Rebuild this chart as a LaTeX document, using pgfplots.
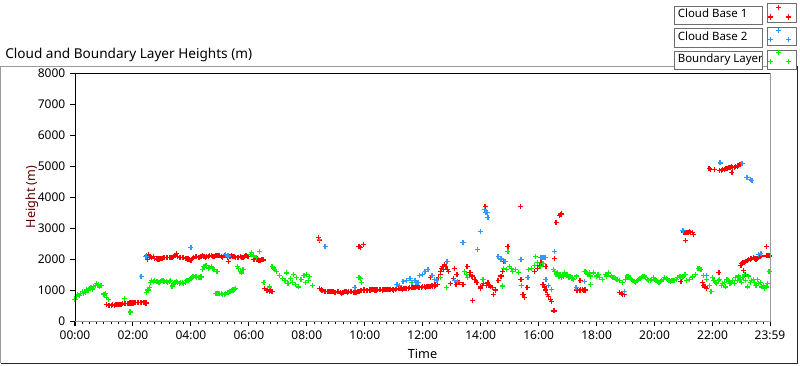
\documentclass[border=0pt]{standalone}
\usepackage{pgfplots}
\pgfplotsset{compat=1.18}
\usepackage{fontspec}
\setmainfont{Noto Sans}
\definecolor{cbred}{RGB}{255,0,0}
\definecolor{cbblue}{RGB}{51,153,255}
\definecolor{blgreen}{RGB}{0,240,0}
\definecolor{lgray}{RGB}{110,110,110}
\definecolor{ylab}{RGB}{100,0,0}
\setlength{\fboxsep}{1.5pt}
\setlength{\fboxrule}{0.75pt}
\newcommand\lbox[1]{\fcolorbox{lgray}{white}{\rule[-3.3pt]{0pt}{10pt}\makebox[62pt][l]{\hspace{0.6pt}#1}}}
\pgfplotsset{
  pts/.style={only marks, mark=+, mark size=1.9pt, mark options={line width=0.9pt}, forget plot},
  swatch/.style={mark=+, mark size=1.9pt, mark options={line width=0.9pt}, color=#1,
    legend image code/.code={
      \pgfpathrectangle{\pgfpoint{0pt}{-6.9pt}}{\pgfpoint{22.5pt}{13.8pt}}\pgfusepath{discard}
      \path[##1] plot[only marks] coordinates {(9pt,3.9pt) (2.6pt,-3pt) (16.5pt,-3pt)};
    }},
}
\begin{document}
\begin{tikzpicture}
\useasboundingbox (0,0) rectangle (600pt,-273.75pt);
\draw[gray!80, line width=0.75pt] (0.4pt,-272.25pt) -- (0.4pt,-49.5pt) -- (597.75pt,-49.5pt);
\draw[black!85, line width=0.75pt] (597.75pt,-49.5pt) -- (597.75pt,-272.25pt) -- (0.4pt,-272.25pt);
\node[anchor=west, inner sep=0pt, font=\fontsize{10.2}{11}\selectfont] at (3.75pt,-41.25pt) {Cloud and Boundary Layer Heights (m)};
% legend swatch frames
\foreach \r in {0,1,2} {
  \draw[lgray, fill=white, line width=0.75pt] (575.25pt,{-2.98pt-\r*17.5pt}) rectangle (597.4pt,{-16.78pt-\r*17.5pt});
}
\begin{axis}[
  name=ax,
  at={(56.25pt,-240.75pt)}, anchor=south west,
  width=521.25pt, height=186pt, scale only axis,
  xmin=0, xmax=23.9833, ymin=0, ymax=8000,
  axis line style={draw=none},
  xtick={0,2,4,6,8,10,12,14,16,18,20,22,23.9833},
  xticklabels={00:00,02:00,04:00,06:00,08:00,10:00,12:00,14:00,16:00,18:00,20:00,22:00,23:59},
  minor xtick={0.25,0.5,...,23.8},
  ytick={0,1000,...,8000},
  xtick pos=bottom, ytick pos=left, tick align=outside,
  major tick length=3.75pt, minor tick length=2.25pt,
  tick style={black, line width=0.75pt},
  ticklabel style={font=\fontsize{9}{10}\selectfont},
  /pgf/number format/assume math mode=true,
  yticklabel style={/pgf/number format/1000 sep={}},
  xlabel={Time}, ylabel={Height (m)},
  label style={font=\fontsize{9.5}{10}\selectfont},
  xlabel style={at={(axis description cs:0.5,-0.133)}, anchor=center},
  ylabel style={at={(axis description cs:-0.062,0.5)}, anchor=center, text=ylab},
  legend plot pos=right,
  legend cell align=left,
  legend style={at={(1.0388,1.2802)}, anchor=north east, draw=none, fill=none,
    row sep=3pt, column sep=3pt, inner sep=0pt, font=\fontsize{8.6}{10}\selectfont,
    nodes={inner sep=0pt}},
]
% Cloud Base 1
\addplot[pts, color=cbred] coordinates {
(1.10,520)(1.15,510)(1.20,510)(1.25,515)(1.30,520)(1.35,515)(1.40,525)(1.45,520)(1.50,520)(1.55,530)(1.60,540)(1.65,550)(1.70,560)(1.75,560)(1.80,570)(1.85,575)(1.90,580)(1.95,580)(2.00,580)(2.05,585)(2.10,590)(2.15,590)(2.20,595)(2.25,600)(2.30,600)(2.35,600)(2.40,610)(2.45,580)
(2.48,2100)(2.50,1980)(2.53,2150)(2.56,2050)(2.60,2080)(2.65,2050)(2.70,2080)(2.75,2020)(2.80,2020)(2.85,2000)(2.90,2000)(2.95,2020)(3.00,2020)(3.05,2040)(3.10,2050)(3.15,2040)(3.20,2040)(3.25,2050)(3.30,2060)(3.35,2060)(3.40,2080)(3.45,2100)(3.50,2180)(3.55,2080)(3.60,2050)(3.65,2060)(3.70,2050)(3.75,2040)(3.80,2030)(3.85,2020)(3.90,2000)(3.95,1980)(4.00,1950)(4.05,2020)(4.10,2050)(4.15,2070)(4.20,2080)(4.25,2060)(4.30,2050)(4.35,2080)(4.40,2100)(4.45,2070)(4.50,2050)(4.55,2080)(4.60,2080)(4.65,2100)(4.70,2100)(4.75,2070)(4.80,2080)(4.85,2100)(4.90,2100)(4.95,2120)(5.00,2120)(5.05,2080)(5.10,2050)(5.15,2100)(5.20,2100)(5.25,2060)(5.30,1920)(5.35,2080)(5.40,2100)(5.45,2090)(5.50,2080)(5.55,2060)(5.60,2050)(5.65,2060)(5.70,2080)(5.75,2060)(5.80,2050)(5.85,2080)(5.90,2100)(5.95,2090)(6.00,2080)
(6.15,1990)(6.20,1980)(6.25,2000)(6.30,2000)(6.35,1960)(6.40,1950)(6.45,1980)(6.50,1970)
(6.55,1050)(6.60,980)(6.65,1000)(6.70,950)(6.75,980)(6.80,960)
(8.40,2700)(8.45,2600)
(8.45,1050)(8.50,1000)(8.55,970)(8.60,950)(8.65,950)(8.70,940)(8.75,950)(8.80,950)(8.85,960)(8.90,950)(8.95,930)(9.00,920)(9.05,940)(9.10,950)(9.15,920)(9.20,900)(9.25,930)(9.30,950)(9.35,940)(9.40,920)(9.45,940)(9.50,960)(9.55,950)(9.60,930)(9.65,910)(9.70,920)(9.75,940)(9.80,950)(9.85,980)(9.90,990)(9.95,1000)
(9.80,2400)(9.85,2380)(9.95,2480)
(10.00,1000)(10.05,990)(10.10,980)(10.15,1000)(10.20,1000)(10.25,1010)(10.30,1010)(10.35,1000)(10.40,1000)(10.45,1010)(10.50,1020)(10.55,1010)(10.60,1000)(10.65,1010)(10.70,1010)(10.75,1020)(10.80,1020)(10.85,1030)(10.90,1030)(10.95,1010)(11.00,1000)(11.05,1030)(11.10,1040)(11.15,1050)(11.20,1050)(11.25,1040)(11.30,1030)(11.35,1050)(11.40,1060)(11.45,1060)(11.50,1060)(11.55,1070)(11.60,1080)(11.65,1080)(11.70,1070)(11.75,1090)(11.80,1100)(11.85,1090)(11.90,1080)(11.95,1090)(12.00,1100)(12.05,1100)(12.10,1090)(12.15,1100)(12.20,1100)(12.25,1120)(12.30,1150)(12.35,1130)(12.40,1120)(12.45,1150)(12.50,1170)
(12.55,1400)(12.60,1600)(12.62,1500)(12.65,1700)(12.70,1750)(12.72,1650)(12.75,1820)(12.80,1750)(12.85,1650)(12.90,1600)
(12.28,1400)(12.42,1170)(12.95,1200)(13.05,1380)(13.10,1700)(13.18,1500)(13.15,1170)(13.25,1250)(13.39,1170)(13.53,1750)(13.63,1560)(13.70,1450)(13.80,1330)(13.87,1250)(13.98,1040)(13.73,650)
(14.15,3700)(14.00,1100)(14.05,1150)(14.10,1200)(14.20,1150)(14.25,1235)(14.30,1150)(14.35,1100)(14.42,1070)(14.45,845)(14.50,1000)(14.60,1300)(14.70,1450)(14.75,1600)(14.80,1920)(14.94,2400)
(15.36,3700)(15.39,1330)(15.46,845)(15.50,750)(15.60,1070)(15.87,1600)(15.95,1700)(16.02,1800)(16.08,1890)(16.25,1750)(16.15,1170)(16.20,1100)(16.25,1000)(16.30,850)(16.35,800)(16.40,700)(16.45,620)(16.53,325)(16.56,2015)(16.60,3180)(16.72,3400)(16.77,3450)(16.80,3480)
(17.30,1000)(17.35,980)(17.40,980)(17.45,1000)(17.50,1010)(17.55,990)(17.60,1000)(17.43,1300)
(18.80,910)(18.85,880)(18.90,860)(18.95,845)
(20.91,1267)(21.00,2870)(21.05,2860)(21.10,2850)(21.15,2860)(21.20,2880)(21.25,2850)(21.30,2850)(21.35,2800)(21.08,2600)
(21.65,1250)(21.70,1150)(21.72,1100)(21.75,1100)(21.78,1050)
(21.88,4910)(21.92,4900)(22.08,4880)(22.25,4850)(22.30,4870)(22.35,4900)(22.40,4900)(22.45,4920)(22.50,4930)(22.55,4950)(22.60,4950)(22.65,4980)(22.70,4960)(22.75,4960)(22.80,4980)(22.85,5000)(22.90,5020)(22.95,5050)(22.67,4780)
(22.22,1560)(22.98,1800)(23.00,1850)(23.05,1880)(23.10,1900)(23.15,1920)(23.20,1950)(23.25,1980)(23.30,2000)(23.35,2020)(23.40,2050)(23.45,2020)(23.50,2000)(23.55,2030)(23.60,2050)(23.65,2080)(23.70,2100)(23.08,1625)(23.12,1500)(23.85,2400)(23.88,2100)(23.92,2100)(23.96,2100)
};
% Cloud Base 2
\addplot[pts, color=cbblue] coordinates {
(2.28,1430)(2.45,2080)(4.00,2370)(5.18,2145)(5.28,2100)(8.45,2630)(8.63,2400)(9.66,1070)
(11.11,1170)(11.20,1150)(11.32,1267)(11.45,1300)(11.56,1365)(11.65,1250)(11.73,1300)(11.76,1250)(11.80,1230)(11.85,1250)(11.90,1460)(12.00,1500)(12.08,1600)(12.18,1660)(12.32,1460)(12.40,1350)(12.49,1300)(12.84,1920)(13.10,1300)(13.39,2535)(13.90,2310)(13.98,2890)(14.12,3600)(14.18,3500)(14.22,3510)(14.25,3350)(14.60,2080)(14.70,2000)(14.84,1920)(15.39,1980)(15.42,1137)(15.63,1400)(16.08,2050)(16.15,2050)(16.22,2050)(16.25,1330)(16.35,1150)(16.43,1010)(16.56,2240)(17.29,1070)(17.57,1267)(18.95,940)(20.98,2920)(21.78,1460)(22.26,5100)(23.02,5070)(23.19,4620)(23.30,4570)(23.36,4520)(23.60,2150)(23.67,2180)
};
% Boundary Layer
\addplot[pts, color=blgreen] coordinates {
(0.00,700)(0.05,780)(0.10,850)(0.15,820)(0.20,900)(0.25,950)(0.30,880)(0.35,920)(0.40,1000)(0.45,980)(0.50,1050)(0.55,1080)(0.60,1030)(0.65,1120)(0.70,1150)(0.75,1200)(0.80,1180)(0.85,1100)(0.90,1150)
(1.00,870)(1.05,880)(1.10,760)(1.15,700)(1.70,715)(1.90,290)
(2.48,920)(2.52,1000)(2.56,1080)(2.60,1250)(2.65,1300)(2.70,1270)(2.75,1300)(2.80,1280)(2.85,1260)(2.90,1250)(2.95,1280)(3.00,1300)(3.05,1290)(3.10,1270)(3.15,1260)(3.20,1250)(3.25,1280)(3.30,1300)(3.35,1130)(3.40,1200)(3.45,1240)(3.50,1260)(3.55,1230)(3.60,1220)(3.65,1250)(3.70,1240)(3.75,1200)(3.80,1250)(3.85,1300)(3.90,1320)(3.95,1350)(4.00,1380)(4.05,1420)(4.10,1450)(4.15,1430)(4.20,1420)(4.25,1400)(4.30,1410)(4.35,1420)
(4.40,1650)(4.45,1750)(4.50,1800)(4.55,1780)(4.60,1700)(4.65,1720)(4.70,1750)(4.75,1700)(4.80,1650)(4.90,1600)
(4.85,880)(4.90,900)(4.95,900)(5.00,890)(5.05,880)(5.10,860)(5.15,850)(5.20,880)(5.25,920)(5.30,930)(5.35,950)(5.40,980)(5.45,1000)(5.50,1020)(5.55,1050)
(5.60,1750)(5.65,1700)(5.70,1600)(5.75,1550)(5.80,1650)
(6.05,2150)(6.10,2200)(6.15,2100)(6.25,2050)(6.38,2240)
(6.52,1235)(6.70,1100)(6.80,1750)(6.85,1700)(6.90,1650)(6.95,1600)
(7.05,1460)(7.15,1370)(7.25,1300)(7.30,1550)(7.35,1200)(7.45,1370)(7.50,1240)(7.55,1500)(7.60,1170)(7.65,1400)(7.70,1100)(7.80,1330)(7.90,1460)(7.95,1250)(8.00,1500)(8.05,1300)(8.10,1430)(8.20,1140)
(9.80,1400)(9.85,1380)(9.90,1230)(11.60,1235)
(12.60,1400)(12.83,1070)(13.20,1270)(13.45,1600)(13.50,1500)(13.55,1400)(14.08,1330)
(14.75,1130)(14.80,1700)(14.90,1650)(14.94,2240)(15.00,1750)(15.05,1700)(15.10,1600)(15.20,1650)(15.30,1560)
(15.65,1660)(15.75,1700)(15.85,1800)(15.90,2080)(15.95,1890)(16.05,1750)(16.15,1850)
(16.50,1650)(16.55,1600)(16.60,1500)(16.65,1550)(16.70,1450)(16.75,1500)(16.80,1400)(16.85,1450)(16.90,1550)(16.95,1480)(17.00,1500)(17.05,1420)(17.10,1450)(17.15,1380)(17.20,1350)(17.30,1450)
(17.60,1600)(17.65,1550)(17.70,1500)(17.75,1550)(17.80,1450)(17.80,1170)(17.90,1550)(18.00,1450)(18.05,1500)(18.10,1400)(18.20,1350)(18.30,1500)(18.35,1450)(18.40,1550)(18.50,1450)(18.55,1400)(18.60,1400)(18.65,1380)(18.70,1350)(18.80,1300)(18.90,1250)(19.00,1350)
(19.05,1450)(19.10,1420)(19.15,1400)(19.20,1350)(19.25,1300)(19.30,1280)(19.35,1250)(19.40,1300)(19.45,1350)(19.50,1380)(19.55,1400)(19.60,1430)(19.65,1450)(19.70,1400)(19.75,1350)(19.80,1320)(19.85,1300)(19.90,1350)(19.95,1400)(20.00,1350)(20.05,1300)(20.10,1280)(20.15,1250)(20.20,1280)(20.25,1300)(20.30,1350)(20.35,1400)(20.40,1380)(20.45,1350)(20.50,1300)(20.55,1280)(20.60,1300)(20.65,1300)(20.70,1320)(20.75,1350)(20.80,1400)(20.85,1450)(20.90,1420)(20.95,1400)(21.00,1450)(21.05,1500)(21.10,1300)(21.20,1350)(21.30,1420)(21.40,1500)(21.50,1700)(21.55,1680)(21.60,1650)(21.70,1480)(21.80,1350)(21.90,1150)(21.95,940)
(22.00,1400)(22.10,1250)(22.20,1300)(22.30,1150)(22.40,1250)(22.50,1350)(22.60,1200)(22.70,1300)(22.80,1400)(22.90,1450)(23.00,1250)(23.10,1500)(23.15,1300)(23.20,1100)(23.30,1250)(23.40,1350)(23.50,1150)(23.60,1200)(23.70,1100)(23.80,1050)(23.90,1200)(23.95,1600)
(22.05,1300)(22.15,1200)(22.25,1350)(22.35,1200)(22.45,1100)(22.55,1300)(22.65,1250)(22.75,1200)(22.85,1300)(22.95,1350)(23.05,1400)(23.25,1450)(23.35,1300)(23.45,1250)(23.55,1350)(23.65,1250)(23.75,1150)(23.85,1100)
};
\addlegendimage{swatch=cbred}
\addlegendentry{\lbox{Cloud Base 1}}
\addlegendimage{swatch=cbblue}
\addlegendentry{\lbox{Cloud Base 2}}
\addlegendimage{swatch=blgreen}
\addlegendentry{\lbox{Boundary Layer}}
\end{axis}
\draw[black, line width=0.75pt] (ax.south west) -- (ax.north west) -- (ax.north east);
\draw[gray!80, line width=0.75pt] (ax.north east) -- (ax.south east) -- (ax.south west);
\end{tikzpicture}
\end{document}
